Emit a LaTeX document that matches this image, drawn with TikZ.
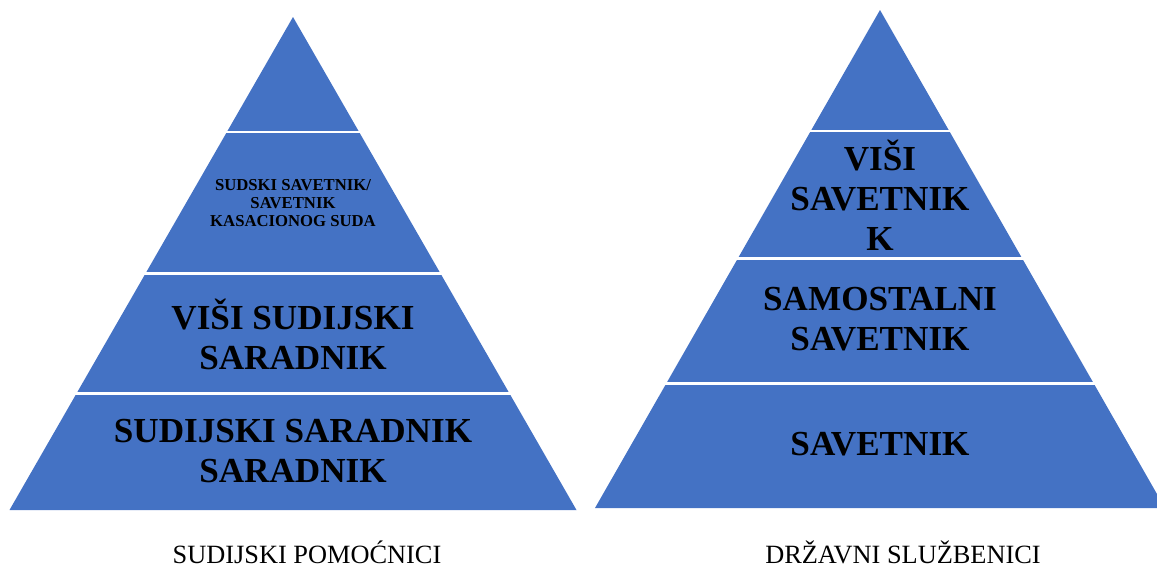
\documentclass[tikz,border=0pt]{standalone}
\usepackage{fontspec}
\setmainfont{Liberation Serif}
\usetikzlibrary{positioning}
\definecolor{pyrblue}{HTML}{4472C4}

\begin{document}
\begin{tikzpicture}[x=0.02cm,y=-0.02cm,
  gap/.style={white,line width=1.7pt},
  big/.style={align=center,font=\bfseries\fontsize{20}{22.7}\selectfont},
  small/.style={align=center,font=\bfseries\fontsize{9.5}{10.5}\selectfont},
  captxt/.style={font=\fontsize{15}{17}\selectfont}]
  \useasboundingbox (0,0) rectangle (1157,569);
  % sudijski pomocnici
  \fill[pyrblue] (293,17)--(576.5,510)--(9.5,510)--cycle;
  \foreach \y in {132,273,393}
    \draw[gap] (0,\y)--(600,\y);
  \node[small] (sp2) at (293,203) {SUDSKI SAVETNIK/\\SAVETNIK\\KASACIONOG SUDA};
  \node[big] (sp3) at (293,334) {VIŠI SUDIJSKI\\SARADNIK};
  \node[big] (sp4) at (293,451) {SUDIJSKI SARADNIK\\SARADNIK};
  \node[captxt] (spc) at (307,552) {SUDIJSKI POMOĆNICI};
  % drzavni sluzbenici
  \fill[pyrblue] (880,10)--(1165,508)--(595,508)--cycle;
  \foreach \y in {131,258,383}
    \draw[gap] (590,\y)--(1157,\y);
  \node[big] (ds2) at (880,195) {VIŠI\\SAVETNIK\\K};
  \node[big] (ds3) at (880,319) {SAMOSTALNI\\SAVETNIK};
  \node[big] (ds4) at (880,444) {SAVETNIK};
  \node[captxt] (dsc) at (903,552) {DRŽAVNI SLUŽBENICI};
\end{tikzpicture}
\end{document}
